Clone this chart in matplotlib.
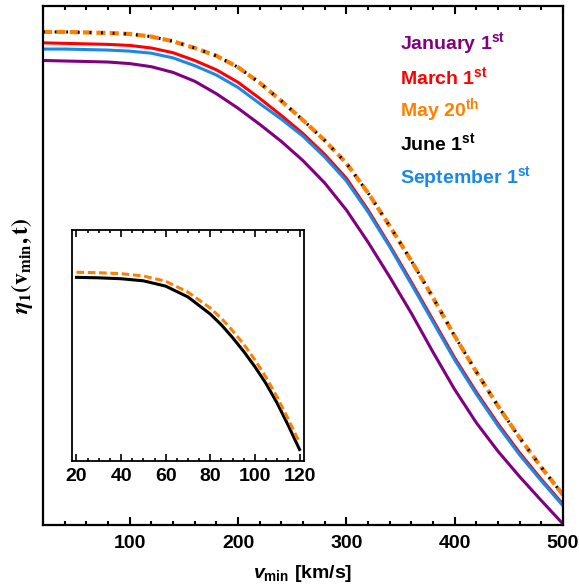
import numpy as np
import matplotlib
matplotlib.use("Agg")
import matplotlib.pyplot as plt
from matplotlib.ticker import MultipleLocator, NullLocator

plt.rcParams['font.family'] = ['Liberation Sans', 'DejaVu Sans']
plt.rcParams['mathtext.fontset'] = 'custom'
plt.rcParams['mathtext.rm'] = 'Liberation Sans:bold'
plt.rcParams['mathtext.bf'] = 'Liberation Sans:bold'
plt.rcParams['mathtext.it'] = 'Liberation Sans:bold:italic'

# data (eta in arbitrary units, 0 = bottom of axes)
vmin = [20, 40, 60, 80, 100, 120, 140, 160, 180, 200, 220, 240, 260,
        280, 300, 320, 340, 360, 380, 400, 420, 440, 460, 480, 500]
eta_jan = [0.895, 0.894, 0.893, 0.892, 0.889, 0.883, 0.872, 0.855, 0.831,
           0.803, 0.772, 0.739, 0.702, 0.659, 0.607, 0.545, 0.478, 0.408,
           0.333, 0.261, 0.197, 0.142, 0.093, 0.047, 0.002]
eta_mar = [0.929, 0.928, 0.927, 0.926, 0.924, 0.919, 0.910, 0.895, 0.877,
           0.853, 0.822, 0.789, 0.754, 0.714, 0.668, 0.607, 0.539, 0.468,
           0.395, 0.322, 0.256, 0.195, 0.139, 0.088, 0.040]
eta_may = [0.950, 0.950, 0.949, 0.948, 0.946, 0.941, 0.932, 0.919, 0.904,
           0.882, 0.852, 0.817, 0.780, 0.741, 0.697, 0.640, 0.576, 0.509,
           0.438, 0.364, 0.295, 0.229, 0.168, 0.111, 0.058]
eta_jun = eta_may
eta_sep = [0.917, 0.917, 0.916, 0.915, 0.913, 0.909, 0.900, 0.885, 0.867,
           0.843, 0.812, 0.782, 0.749, 0.709, 0.663, 0.603, 0.536, 0.464,
           0.391, 0.318, 0.252, 0.191, 0.135, 0.085, 0.037]

# inset: low vmin region
vmin_in = [20, 30, 40, 50, 60, 70, 80, 85, 90, 95, 100, 105, 110, 115, 120]
eta_jun_in = [0.795, 0.793, 0.789, 0.780, 0.757, 0.710, 0.636, 0.589, 0.534,
              0.474, 0.408, 0.335, 0.250, 0.153, 0.050]
eta_may_in = [0.817, 0.815, 0.811, 0.801, 0.778, 0.731, 0.662, 0.617, 0.564,
              0.505, 0.438, 0.362, 0.276, 0.180, 0.079]

labels = ['January 1$^{\\mathbf{st}}$', 'March 1$^{\\mathbf{st}}$',
          'May 20$^{\\mathbf{th}}$', 'June 1$^{\\mathbf{st}}$',
          'September 1$^{\\mathbf{st}}$']
colors = ['#800080', '#ff0000', '#ff8000', '#000000', '#1a88e8']

fig = plt.figure(figsize=(5.79, 5.86), dpi=100)
ax = fig.add_axes([0.0743, 0.1041, 0.8981, 0.8857])

ax.plot(vmin, eta_jan, color=colors[0], lw=2.2)
ax.plot(vmin, eta_mar, color=colors[1], lw=2.2)
ax.plot(vmin, eta_sep, color=colors[4], lw=2.2)
ax.plot(vmin, eta_may, color=colors[2], lw=3.0, ls=(0, (2.2, 1.0)))
ax.plot(vmin, eta_jun, color=colors[3], lw=2.2, ls=(0, (0.6, 3.2)))

ax.set_xlim(20, 500)
ax.set_ylim(0, 1)
ax.xaxis.set_major_locator(MultipleLocator(100))
ax.xaxis.set_minor_locator(MultipleLocator(20))
ax.yaxis.set_major_locator(NullLocator())
ax.tick_params(axis='x', which='both', direction='in', top=True, width=1.5,
               labelsize=14, pad=7)
ax.tick_params(axis='x', which='major', length=6)
ax.tick_params(axis='x', which='minor', length=3)
for lab in ax.get_xticklabels():
    lab.set_fontweight('bold')
for s in ax.spines.values():
    s.set_linewidth(1.6)

ax.set_xlabel('$\\mathit{v}_{\\mathrm{min}}$ [km/s]', fontsize=14,
              fontweight='bold', labelpad=8)
ax.set_ylabel('$\\boldsymbol{\\eta}_\\mathbf{1}\\mathbf{(v_{min},t)}$',
              fontsize=17, math_fontfamily='stix', labelpad=6)

for i, (lab, c) in enumerate(zip(labels, colors)):
    ax.text(0.687, 0.928 - i * 0.0643, lab, color=c, fontsize=14,
            fontweight='bold', transform=ax.transAxes, va='center')

# inset
axi = fig.add_axes([0.1244, 0.2133, 0.4006, 0.3942])
axi.plot(vmin_in, eta_jun_in, color='black', lw=2.2)
axi.plot(vmin_in, eta_may_in, color=colors[2], lw=2.2, ls=(0, (2.5, 1.2)))
axi.set_xlim(18, 122)
axi.set_ylim(0, 1)
axi.xaxis.set_major_locator(MultipleLocator(20))
axi.xaxis.set_minor_locator(MultipleLocator(5))
axi.yaxis.set_major_locator(NullLocator())
axi.tick_params(axis='x', which='both', direction='in', top=True, width=1.2,
                labelsize=14, pad=5)
axi.tick_params(axis='x', which='major', length=5)
axi.tick_params(axis='x', which='minor', length=2.5)
for lab in axi.get_xticklabels():
    lab.set_fontweight('bold')
for s in axi.spines.values():
    s.set_linewidth(1.3)

fig.savefig('out.png', dpi=100)
